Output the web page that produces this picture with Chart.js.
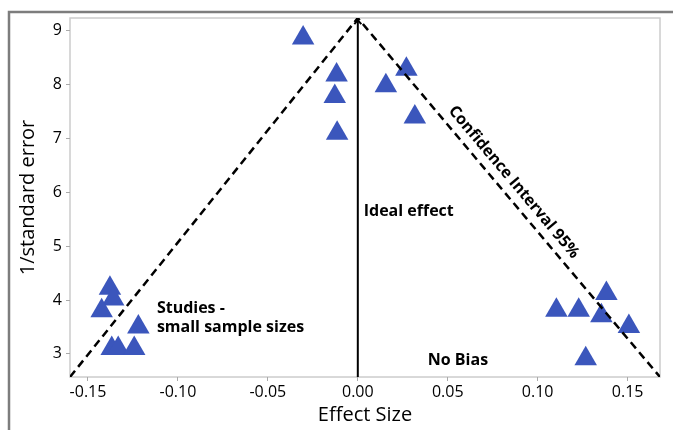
<!DOCTYPE html>
<html><head><meta charset="utf-8">
<script src="https://cdn.jsdelivr.net/npm/chart.js@4.4.1/dist/chart.umd.min.js"></script>
<style>html,body{margin:0;padding:0;background:#fff}canvas{display:block}</style>
</head><body>
<canvas id="c" width="673" height="430"></canvas>
<script>
// Study points
const effectSize = [-0.0304, -0.0118, -0.0128, -0.0115, 0.0156, 0.0270, 0.0317,
                    -0.1378, -0.1360, -0.1424, -0.1368, -0.1332, -0.1243, -0.1220,
                    0.1104, 0.1228, 0.1382, 0.1354, 0.1507, 0.1267];
const precision  = [8.87, 8.18, 7.78, 7.10, 7.98, 8.29, 7.40,
                    4.22, 4.02, 3.80, 3.10, 3.10, 3.10, 3.50,
                    3.81, 3.81, 4.12, 3.71, 3.51, 2.91];
// 95% confidence funnel (dashed) and ideal effect line
const ciX = [-0.16, 0, 0.168];
const ciY = [2.57, 9.24, 2.57];
const idealX = [0, 0];
const idealY = [2.57, 9.2];
// Axes
const xTicks = [-0.15, -0.10, -0.05, 0.00, 0.05, 0.10, 0.15];
const yTicks = [3, 4, 5, 6, 7, 8, 9];
const xRange = [-0.16, 0.168];
const yRange = [2.57, 9.24];

const FONT = "'Open Sans', 'Noto Sans', sans-serif";
const pts = (xs, ys) => xs.map((x, i) => ({x, y: ys[i]}));

const decor = {
  id: 'decor',
  beforeDraw(chart) {
    const ctx = chart.ctx, a = chart.chartArea;
    ctx.save();
    ctx.fillStyle = '#fff';
    ctx.fillRect(0, 0, chart.width, chart.height);
    ctx.strokeStyle = '#7d7d7d';
    ctx.lineWidth = 2.5;
    ctx.beginPath();
    ctx.moveTo(9, chart.height); ctx.lineTo(9, 12); ctx.lineTo(chart.width, 12);
    ctx.stroke();
    ctx.strokeStyle = '#cccccc';
    ctx.lineWidth = 1.5;
    ctx.strokeRect(a.left, a.top, a.right - a.left, a.bottom - a.top);
    ctx.restore();
  },
  afterDatasetsDraw(chart) {
    const ctx = chart.ctx, sx = chart.scales.x, sy = chart.scales.y;
    ctx.save();
    // arrow head on ideal-effect line
    const ax = sx.getPixelForValue(idealX[1]), ay = sy.getPixelForValue(idealY[1]);
    ctx.strokeStyle = '#000'; ctx.lineWidth = 2;
    ctx.beginPath();
    ctx.moveTo(ax - 3.5, ay + 4); ctx.lineTo(ax, ay); ctx.lineTo(ax + 3.5, ay + 4);
    ctx.stroke();
    ctx.fillStyle = '#000';
    ctx.textBaseline = 'alphabetic';
    ctx.textAlign = 'left';
    ctx.font = "bold 16px " + FONT;
    ctx.fillText('Ideal effect', sx.getPixelForValue(0.0033), sy.getPixelForValue(5.57));
    ctx.fillText('Studies -', sx.getPixelForValue(-0.1117), sy.getPixelForValue(3.75));
    ctx.fillText('small sample sizes', sx.getPixelForValue(-0.1117), sy.getPixelForValue(3.40));
    ctx.fillText('No Bias', sx.getPixelForValue(0.0389), sy.getPixelForValue(2.80));
    // rotated label along the right CI line
    const p0x = sx.getPixelForValue(ciX[1]), p0y = sy.getPixelForValue(ciY[1]);
    const p1x = sx.getPixelForValue(ciX[2]), p1y = sy.getPixelForValue(ciY[2]);
    const ang = Math.atan2(p1y - p0y, p1x - p0x);
    ctx.translate(sx.getPixelForValue(0.0867), sy.getPixelForValue(6.19));
    ctx.rotate(ang);
    ctx.textAlign = 'center';
    ctx.textBaseline = 'middle';
    ctx.fillText('Confidence Interval 95%', 0, 0);
    ctx.restore();
  }
};

new Chart(document.getElementById('c'), {
  data: {
    datasets: [
      {type: 'line', data: pts(ciX, ciY), borderColor: '#000', borderWidth: 2.5,
       borderDash: [8, 5], pointRadius: 0, fill: false, tension: 0, order: 1},
      {type: 'line', data: pts(idealX, idealY), borderColor: '#000', borderWidth: 2,
       pointRadius: 0, fill: false, tension: 0, order: 1},
      {type: 'scatter', data: pts(effectSize, precision), pointStyle: 'triangle',
       pointRadius: 13, pointHoverRadius: 13, backgroundColor: '#3b56bc',
       borderWidth: 0, order: 2}
    ]
  },
  options: {
    responsive: false,
    animation: false,
    devicePixelRatio: 1,
    layout: {padding: {left: 0, top: 18, right: 13, bottom: 0}},
    plugins: {legend: {display: false}, tooltip: {enabled: false}},
    scales: {
      x: {
        type: 'linear', min: xRange[0], max: xRange[1],
        afterBuildTicks: s => { s.ticks = xTicks.map(v => ({value: v})); },
        afterFit: s => { s.height = 53; },
        ticks: {callback: v => Number(v).toFixed(2), font: {family: FONT, size: 16, weight: 500},
                color: '#000', padding: 2, autoSkip: false, maxRotation: 0},
        grid: {drawOnChartArea: false, tickLength: 4, color: '#aaa'},
        border: {display: false},
        title: {display: true, text: 'Effect Size', color: '#000',
                font: {family: FONT, size: 20, weight: 500}, padding: {top: 0, bottom: 3}}
      },
      y: {
        type: 'linear', min: yRange[0], max: yRange[1],
        afterBuildTicks: s => { s.ticks = yTicks.map(v => ({value: v})); },
        afterFit: s => { s.width = 70; },
        ticks: {callback: v => String(v), font: {family: FONT, size: 16, weight: 500},
                color: '#000', padding: 4},
        grid: {drawOnChartArea: false, tickLength: 4, color: '#aaa'},
        border: {display: false},
        title: {display: true, text: '1/standard error', color: '#000',
                font: {family: FONT, size: 20, weight: 500}, padding: {top: 16, bottom: 0}}
      }
    }
  },
  plugins: [decor]
});
</script>
</body></html>
